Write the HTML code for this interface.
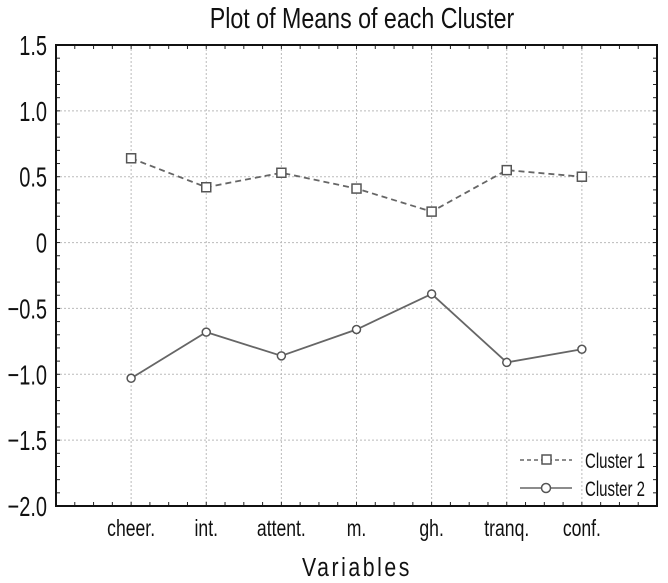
<!DOCTYPE html>
<html><head><meta charset="utf-8"><style>
html,body{margin:0;padding:0;background:#fff;}
svg{display:block;font-family:"Liberation Sans Narrow","Liberation Sans",sans-serif;}
</style></head><body>
<svg id="chart" width="668" height="583" viewBox="0 0 668 583" xmlns="http://www.w3.org/2000/svg">
<text transform="translate(362,28) scale(0.86,1.05)" font-size="27" text-anchor="middle" fill="#111">Plot of Means of each Cluster</text>
<text transform="translate(357,576) scale(0.85,1.05)" font-size="25" text-anchor="middle" letter-spacing="3" fill="#111">Variables</text>
<g id="grid"></g><g id="axes"></g><g id="series"></g>
<g>
<line x1="520" y1="460" x2="572" y2="460" stroke="#666" stroke-width="1.5" stroke-dasharray="4,3"/>
<rect x="542" y="455" width="9" height="9" fill="#fff" stroke="#555" stroke-width="1.5"/>
<text transform="translate(585,468) scale(0.75,1.05)" font-size="20" fill="#111">Cluster 1</text>
<line x1="520" y1="488" x2="572" y2="488" stroke="#666" stroke-width="1.5"/>
<circle cx="546" cy="488" r="4.5" fill="#fff" stroke="#555" stroke-width="1.5"/>
<text transform="translate(585,496) scale(0.75,1.05)" font-size="20" fill="#111">Cluster 2</text>
</g>
</svg>
<script>
const categories = ["cheer.","int.","attent.","m.","gh.","tranq.","conf."];
const cluster1 = [0.64,0.42,0.53,0.41,0.235,0.55,0.50];
const cluster2 = [-1.03,-0.68,-0.86,-0.66,-0.39,-0.91,-0.81];
const yTicks = [1.5,1.0,0.5,0,-0.5,-1.0,-1.5,-2.0];
const yTickLabels = ["1.5","1.0","0.5","0","\u22120.5","\u22121.0","\u22121.5","\u22122.0"];

const NS="http://www.w3.org/2000/svg";
const L=56,R=657,T=45,B=506,yMin=-2,yMax=1.5;
const xs=i=>L+(R-L)*(i+1)/(categories.length+1);
const ys=v=>B-(v-yMin)/(yMax-yMin)*(B-T);
function mk(tag,attrs,parent){const e=document.createElementNS(NS,tag);for(const k in attrs)e.setAttribute(k,attrs[k]);parent.appendChild(e);return e;}
const grid=document.getElementById('grid'),axes=document.getElementById('axes'),ser=document.getElementById('series');
yTicks.forEach((v,i)=>{
  const y=ys(v);
  const g=mk('line',{x1:L,x2:R,y1:y,y2:y,stroke:'#bbb','stroke-dasharray':'2,2','stroke-width':1},grid);
  
  
  const t=mk('text',{transform:'translate(47,'+(y+10)+') scale(0.8,1.12)','font-size':25,'text-anchor':'end',fill:'#111'},axes);
  t.textContent=yTickLabels[i];
  
  
});
for(let v=yMin;v<=yMax+1e-9;v+=0.1){const y=ys(v);mk('line',{x1:L,x2:L+4,y1:y,y2:y,stroke:'#222'},axes);mk('line',{x1:R-4,x2:R,y1:y,y2:y,stroke:'#222'},axes);}
for(let k=0;k<=32;k++){const x=L+(R-L)*k/32;mk('line',{x1:x,x2:x,y1:T,y2:T+4,stroke:'#222'},axes);mk('line',{x1:x,x2:x,y1:B-4,y2:B,stroke:'#222'},axes);}
categories.forEach((c,i)=>{
  const x=xs(i);
  const g=mk('line',{x1:x,x2:x,y1:T,y2:B,stroke:'#bbb','stroke-dasharray':'2,2'},grid);
  
  
  const t=mk('text',{transform:'translate('+x+',536) scale(0.8,1.05)','font-size':22,'text-anchor':'middle',fill:'#111'},axes);
  t.textContent=c;
  
  
});
const fr=mk('rect',{x:L,y:T,width:R-L,height:B-T,fill:'none',stroke:'#111','stroke-width':2},axes);


function drawSeries(vals,dash,marker,name){
  const pts=vals.map((v,i)=>xs(i)+','+ys(v)).join(' ');
  const pl=mk('polyline',{points:pts,fill:'none',stroke:'#666','stroke-width':1.8},ser);
  if(dash)pl.setAttribute('stroke-dasharray','6,4');
  
  
  vals.forEach((v,i)=>{
    let m;
    if(marker==='sq')m=mk('rect',{x:xs(i)-4.5,y:ys(v)-4.5,width:9,height:9,fill:'#fff',stroke:'#555','stroke-width':1.5},ser);
    else m=mk('circle',{cx:xs(i),cy:ys(v),r:4,fill:'#fff',stroke:'#555','stroke-width':1.5},ser);
    
    
  });
}
drawSeries(cluster1,true,'sq','cluster-1');
drawSeries(cluster2,false,'ci','cluster-2');
</script>
</body></html>
